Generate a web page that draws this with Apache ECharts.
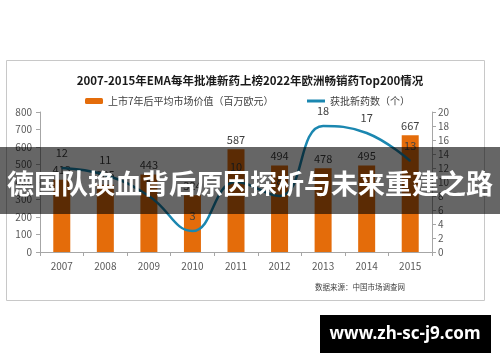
<!DOCTYPE html>
<html>
<head>
<meta charset="utf-8">
<script src="https://cdn.jsdelivr.net/npm/echarts@6/dist/echarts.min.js"></script>
<style>
html,body{margin:0;padding:0;background:#fff;}
#c{width:500px;height:362px;}
</style>
</head>
<body>
<div id="c"></div>
<script>
var years = ['2007','2008','2009','2010','2011','2012','2013','2014','2015'];
var marketValue = [413, 385, 443, 324, 587, 494, 478, 495, 667];
var newDrugs = [12, 11, 8, 3, 10, 8, 18, 17, 13];
var leftTicks = [0, 800, 100];
var rightTicks = [0, 20, 2];
var titleText = '2007-2015年EMA每年批准新药上榜2022年欧洲畅销药Top200情况';
var barName = '上市7年后平均市场价值（百万欧元）';
var lineName = '获批新药数（个）';
var sourceText = '数据来源：中国市场调查网';
var bannerText = '德国队换血背后原因探析与未来重建之路';
var watermarkText = 'www.zh-sc-j9.com';

var font = '"Microsoft YaHei","Noto Sans CJK SC","Noto Sans",sans-serif';
var chart = echarts.init(document.getElementById('c'), null, {renderer:'canvas'});
chart.setOption({
  animation: false,
  backgroundColor: '#ffffff',
  title: {
    text: titleText, left: 'center', top: 70,
    textStyle: {fontSize: 11.5, fontWeight: 'bold', color: '#1a1a1a', fontFamily: font}
  },
  legend: [
    {data: [barName], left: 80, top: 91, itemWidth: 18, itemHeight: 6, itemGap: 4,
     textStyle: {fontSize: 10, color: '#404040', fontFamily: font}},
    {data: [{name: lineName, icon: 'rect'}], left: 302, top: 91, itemWidth: 18, itemHeight: 3,
     textStyle: {fontSize: 10, color: '#404040', fontFamily: font}}
  ],
  grid: {left: 40, right: 68, top: 112, bottom: 110},
  xAxis: {
    type: 'category', data: years,
    axisLine: {lineStyle: {color: '#a6a6a6'}},
    axisTick: {show: true, lineStyle: {color: '#a6a6a6'}, length: 4},
    axisLabel: {fontSize: 10, color: '#595959', margin: 9, fontFamily: font}
  },
  yAxis: [
    {type: 'value', min: leftTicks[0], max: leftTicks[1], interval: leftTicks[2],
     splitLine: {show: false},
     axisLine: {show: true, lineStyle: {color: '#a6a6a6'}},
     axisTick: {show: true, lineStyle: {color: '#a6a6a6'}, length: 4},
     axisLabel: {fontSize: 10, color: '#595959', margin: 8, fontFamily: font}},
    {type: 'value', min: rightTicks[0], max: rightTicks[1], interval: rightTicks[2],
     position: 'right',
     splitLine: {show: false},
     axisLine: {show: true, lineStyle: {color: '#a6a6a6'}},
     axisTick: {show: true, lineStyle: {color: '#a6a6a6'}, length: 4},
     axisLabel: {fontSize: 10, color: '#595959', margin: 6, fontFamily: font}}
  ],
  series: [
    {name: barName, type: 'bar', data: marketValue, barWidth: 17, yAxisIndex: 0,
     itemStyle: {color: '#e46c0a'},
     labelLayout: {hideOverlap: false},
     label: {show: true, position: 'top', distance: 4, fontSize: 11, color: '#404040', fontFamily: font}},
    {name: lineName, type: 'line', data: newDrugs, yAxisIndex: 1, smooth: 0.45,
     symbol: 'circle', symbolSize: 1, showSymbol: true, z: 3,
     lineStyle: {color: '#1b87b0', width: 2.5},
     itemStyle: {color: '#1b87b0'},
     labelLayout: {hideOverlap: false},
     label: {show: true, position: 'top', distance: 9, fontSize: 11, color: '#404040', fontFamily: font}}
  ],
  graphic: [
    {type: 'rect', z: -1, silent: true, shape: {x: 6.5, y: 60.5, width: 478, height: 240},
     style: {fill: 'none', stroke: '#c8c8c8', lineWidth: 1}},
    {type: 'text', z: 50, left: 315, top: 283,
     style: {text: sourceText, fontSize: 7.5, fill: '#404040', fontFamily: font}},
    {type: 'rect', z: 100, silent: true, shape: {x: 0, y: 147, width: 500, height: 67},
     style: {fill: 'rgba(0,0,0,0.6)'}},
    {type: 'text', z: 101, x: 250, y: 184,
     style: {text: bannerText, fontSize: 27, fontWeight: 'bold', fill: '#ffffff',
             align: 'center', verticalAlign: 'middle', fontFamily: '"Noto Sans CJK SC",sans-serif'}},
    {type: 'rect', z: 100, shape: {x: 320, y: 315, width: 171, height: 38},
     style: {fill: '#000000'}},
    {type: 'text', z: 101, x: 405, y: 334,
     style: {text: watermarkText, fontSize: 17, fontWeight: 'bold', fill: '#ffffff',
             align: 'center', verticalAlign: 'middle', fontFamily: '"Noto Sans","DejaVu Sans",sans-serif'}}
  ]
});
</script>
</body>
</html>
